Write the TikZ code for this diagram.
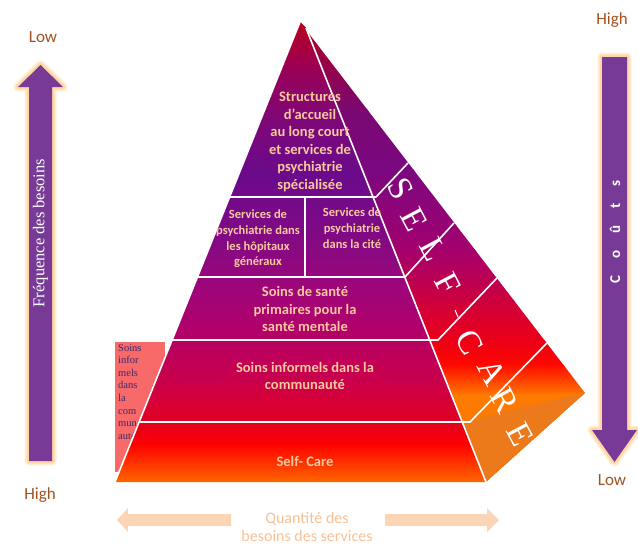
\documentclass[tikz,border=0pt]{standalone}
\usepackage{fontspec}
\setmainfont{Carlito}
\newfontfamily\timesfont{Liberation Serif}
\usepackage{tikz}

% front face, top to bottom
\definecolor{fA}{HTML}{B8001C}
\definecolor{fB}{HTML}{9A0058}
\definecolor{fC}{HTML}{7E0878}
\definecolor{fD}{HTML}{6A0A8C}
\definecolor{fE}{HTML}{800A84}
\definecolor{fF}{HTML}{9C067A}
\definecolor{fG}{HTML}{B2006A}
\definecolor{fH}{HTML}{CC0048}
\definecolor{fI}{HTML}{E4001E}
\definecolor{fJ}{HTML}{FF0000}
\definecolor{fK}{HTML}{FF6E00}
% side face
\definecolor{sA}{HTML}{B0001E}
\definecolor{sB}{HTML}{7A0872}
\definecolor{sC}{HTML}{7A0880}
\definecolor{sD}{HTML}{A4006E}
\definecolor{sE}{HTML}{CC003E}
\definecolor{sF}{HTML}{EC0018}
\definecolor{sG}{HTML}{FF0800}
\definecolor{sH}{HTML}{FF7A00}
\definecolor{sidebase}{HTML}{EC7A1A}
% the rest
\definecolor{peach}{HTML}{F8C99C}
\definecolor{informal}{HTML}{F86A6A}
\definecolor{informaltext}{HTML}{3C2A6C}
\definecolor{arrowpurple}{HTML}{773A96}
\definecolor{glow}{HTML}{FFD6A4}
\definecolor{levelbrown}{HTML}{A0521E}
\definecolor{flowpeach}{HTML}{FBD5B5}
\definecolor{flowtext}{HTML}{F8C094}

\begin{document}
\begin{tikzpicture}[x=1pt,y=-1pt,
  sepline/.style={white,line width=1.6pt},
  tierlabel/.style={text=peach,align=center,font=\bfseries\fontsize{14.5}{17.5}\selectfont},
  subtierlabel/.style={text=peach,align=center,font=\bfseries\fontsize{12.5}{15.7}\selectfont},
  sclabel/.style={text=white,inner sep=0pt,rotate=-62,font=\timesfont\fontsize{34}{34}\selectfont},
  levellabel/.style={text=levelbrown,font=\fontsize{17}{17}\selectfont},
  glowarrow/.style={fill=arrowpurple,
    preaction={draw=glow!45,line width=9pt,line join=round},
    preaction={draw=glow,line width=5pt,line join=round}},
  flowarrow/.style={fill=flowpeach}]
\useasboundingbox (0,0) rectangle (638,546);

% corners of the pyramid
\coordinate (apex) at (300,22);
\coordinate (ridge) at (306,28);
\coordinate (bl) at (115,482);
\coordinate (br) at (486,482);
\coordinate (side) at (585,393);

% box on the left, half under the pyramid
\fill[informal] (115,342) rectangle (165,472);
\node[text=informaltext,align=left,anchor=north west,inner sep=0pt,
  font=\timesfont\fontsize{10.5}{12.6}\selectfont] (informalbox) at (118,344)
  {Soins\\infor\\mels\\dans\\la\\com\\mun\\auté};

% front face
\begin{scope}
\clip (apex) -- (bl) -- (br) -- (ridge) -- cycle;
\foreach \ya/\yb/\ca/\cb in {20/70/fA/fB, 70/120/fB/fC, 120/175/fC/fD, 175/235/fD/fE,
  235/285/fE/fF, 285/330/fF/fG, 330/385/fG/fH, 385/425/fH/fI, 425/445/fI/fJ, 445/484/fJ/fK}
  \shade[top color=\ca,bottom color=\cb] (100,\ya-1) rectangle (600,\yb+1);
\end{scope}

% side face
\begin{scope}
\clip (apex) -- (side) -- (br) -- (ridge) -- cycle;
\foreach \ya/\yb/\ca/\cb in {20/110/sA/sB, 110/170/sB/sC, 170/250/sC/sD, 250/300/sD/sE,
  300/340/sE/sF, 340/365/sF/sG, 365/395/sG/sH, 395/484/sH/sH}
  \shade[top color=\ca,bottom color=\cb] (300,\ya-1) rectangle (600,\yb+1);
\fill[sidebase] (462,422) -- (586,392) -- (br) -- cycle;
\end{scope}

% edges and tier lines
\draw[sepline] (apex) -- (bl);
\draw[sepline] (ridge) -- (br);
\draw[sepline] (230,197) -- (376,197) -- (408,163);
\draw[sepline] (305,197) -- (305,277);
\draw[sepline] (197,277) -- (405,277) -- (454,223);
\draw[sepline] (172,340) -- (438,340) -- (497,278);
\draw[sepline] (139,422) -- (470,422) -- (547,343);

% tier labels
\node[tierlabel] (longstay) at (310,142) {Structures\\d'accueil\\au long court\\et services de\\psychiatrie\\spécialisée};
\node[subtierlabel] (hospital) at (258,239) {Services de\\psychiatrie dans\\les hôpitaux\\généraux};
\node[subtierlabel] (community) at (352,228) {Services de\\psychiatrie\\dans la cité};
\node[tierlabel] (primary) at (305,309) {Soins de santé\\primaires pour la\\santé mentale};
\node[tierlabel] (informal) at (305,376) {Soins informels dans la\\communauté};
\node[tierlabel] (selfcare) at (305,461) {Self- Care};

% letters down the side face
\foreach \l/\x/\y [count=\i] in {S/401/189, E/414/219, L/433/249, F/448/284,
  C/470/342, A/492/372, R/505/400, E/520/434}
  \node[sclabel] (sc\i) at (\x,\y) {\l};
\draw[white,line width=1pt] (455,310) -- (458,317);

% need frequency, pointing up
\path[glowarrow] (29,461) -- (29,87) -- (18,87) -- (40.5,65) -- (63,87) -- (52,87) -- (52,461) -- cycle;
\node[text=white,rotate=90,font=\timesfont\fontsize{16.5}{16.5}\selectfont] (frequency) at (40.5,233) {Fréquence des besoins};
\node[levellabel] (freqlow) at (43,37) {Low};
\node[levellabel] (freqhigh) at (40,495) {High};

% costs, pointing down
\path[glowarrow] (602,57) -- (627,57) -- (627,430) -- (637,430) -- (614.5,462) -- (592,430) -- (602,430) -- cycle;
\node[text=white,rotate=90,font=\bfseries\fontsize{15}{15}\selectfont] (costs) at (615,232)
  {C\hspace{17pt}o\hspace{17pt}û\hspace{17pt}t\hspace{17pt}s};
\node[levellabel] (costhigh) at (612,20) {High};
\node[levellabel] (costlow) at (612,480) {Low};

% quantity of service needs
\fill[flowarrow] (231,514) -- (128,514) -- (128,508) -- (117,520) -- (128,532) -- (128,526) -- (231,526) -- cycle;
\fill[flowarrow] (385,514) -- (487,514) -- (487,508) -- (499,520) -- (487,532) -- (487,526) -- (385,526) -- cycle;
\node[text=flowtext,align=center,inner sep=0pt,font=\fontsize{16}{19}\selectfont] (quantity) at (307,527) {Quantité des\\besoins des services};
\end{tikzpicture}
\end{document}
